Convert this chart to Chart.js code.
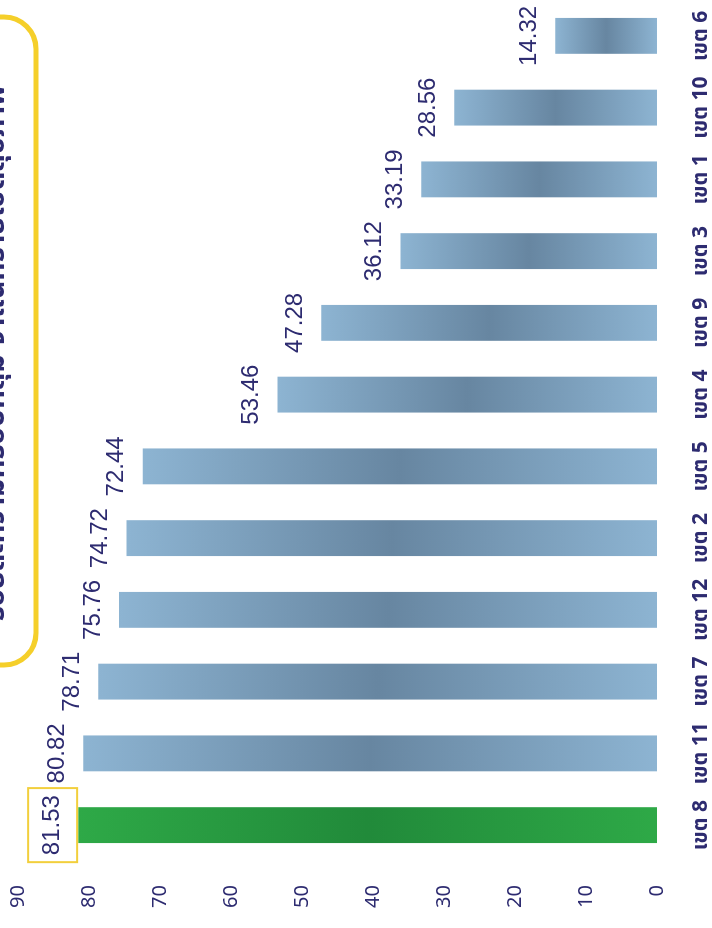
<!DOCTYPE html>
<html>
<head>
<meta charset="utf-8">
<script src="https://cdn.jsdelivr.net/npm/chart.js@4.4.1/dist/chart.umd.min.js"></script>
<style>
    html, body { margin: 0; padding: 0; background: #fff; overflow: hidden; }
    body { width: 712px; height: 928px; position: relative; }
    #wrap {
        position: absolute; left: 0; top: 0;
        width: 928px; height: 712px;
        transform-origin: 0 0;
        transform: translateY(928px) rotate(-90deg);
    }
</style>
</head>
<body>
<div id="wrap"><canvas id="regionChart" width="928" height="712"></canvas></div>
<script>
    // data
    const regions = ["เขต 8", "เขต 11", "เขต 7", "เขต 12", "เขต 2", "เขต 5", "เขต 4", "เขต 9", "เขต 3", "เขต 1", "เขต 10", "เขต 6"];
    const values = [81.53, 80.82, 78.71, 75.76, 74.72, 72.44, 53.46, 47.28, 36.12, 33.19, 28.56, 14.32];
    const highlighted = [true, false, false, false, false, false, false, false, false, false, false, false];
    const yMin = 0;
    const yMax = 90;
    const yStep = 10;
    const titleText = "ร้อยละความครอบคลุม จำแนกรายเขตสุขภาพ";

    const navy = "#2d2b70";
    const blueShade = ["#8db4d2", "#6786a1"];
    const greenShade = ["#2ea947", "#218a3a"];
    const fontFamily = "'Noto Sans', 'Noto Sans Thai', 'DejaVu Sans', sans-serif";

    /**
     * bars: lighter at both ends, darker in the middle
     */
    function barFill(ctx) {
        let shade = highlighted[ctx.dataIndex] ? greenShade : blueShade;
        let chart = ctx.chart;
        if (!chart.chartArea || ctx.type !== "data") {
            return shade[0];
        }
        let y = chart.scales.y;
        let top = y.getPixelForValue(ctx.raw);
        let bottom = y.getPixelForValue(0);
        let g = chart.ctx.createLinearGradient(0, top, 0, bottom);
        g.addColorStop(0, shade[0]);
        g.addColorStop(0.5, shade[1]);
        g.addColorStop(1, shade[0]);
        return g;
    }

    /**
     * value labels above each bar, boxed for the highlighted one
     */
    const valueLabels = {
        id: "valueLabels",
        afterDatasetsDraw(chart) {
            let ctx = chart.ctx;
            let meta = chart.getDatasetMeta(0);
            ctx.save();
            ctx.font = "24px 'Liberation Sans', sans-serif";
            ctx.fillStyle = navy;
            ctx.textAlign = "center";
            ctx.textBaseline = "middle";
            meta.data.forEach(function (bar, i) {
                let text = values[i].toFixed(2);
                let cy = bar.y - 26;
                ctx.fillText(text, bar.x, cy);
                if (highlighted[i]) {
                    let w = ctx.measureText(text).width;
                    ctx.strokeStyle = "#f2cf3c";
                    ctx.lineWidth = 2;
                    ctx.strokeRect(bar.x - w / 2 - 7, cy - 24, w + 14, 49);
                }
            });
            ctx.restore();
        }
    };

    /**
     * rounded yellow title box, mostly cut off at the page edge
     */
    const titleBox = {
        id: "titleBox",
        beforeDraw(chart) {
            let ctx = chart.ctx;
            ctx.save();
            ctx.fillStyle = "#fff";
            ctx.fillRect(0, 0, chart.width, chart.height);
            ctx.strokeStyle = "#f5cf2a";
            ctx.lineWidth = 5;
            ctx.beginPath();
            ctx.roundRect(263, -70, 648, 106, 32);
            ctx.stroke();
            ctx.font = "bold 29px " + fontFamily;
            ctx.fillStyle = navy;
            ctx.textAlign = "center";
            ctx.textBaseline = "alphabetic";
            ctx.fillText(titleText, 575, 4);
            ctx.restore();
        }
    };

    let regionChart = new Chart(document.getElementById("regionChart"), {
        type: "bar",
        data: {
            labels: regions,
            datasets: [
                {
                    label: "ร้อยละ",
                    data: values,
                    backgroundColor: barFill,
                    borderWidth: 0,
                    barPercentage: 0.5,
                    categoryPercentage: 1,
                },
            ],
        },
        options: {
            responsive: false,
            animation: false,
            layout: {
                padding: { top: 18, right: 0, bottom: 0, left: 0 }
            },
            plugins: {
                legend: { display: false },
                title: { display: false },
                tooltip: { enabled: false }
            },
            scales: {
                x: {
                    grid: { display: false, drawTicks: false },
                    border: { display: false },
                    afterFit: function (scale) {
                        scale.height = 55;
                        scale.paddingLeft = 0;
                        scale.paddingRight = 0;
                    },
                    ticks: {
                        color: navy,
                        padding: 31,
                        maxRotation: 0,
                        autoSkip: false,
                        font: { family: fontFamily, size: 21, weight: "bold" }
                    }
                },
                y: {
                    min: yMin,
                    max: yMax,
                    grid: { display: false, drawTicks: false },
                    border: { display: false },
                    afterFit: function (scale) {
                        scale.width = 67;
                        scale.paddingTop = 0;
                        scale.paddingBottom = 0;
                    },
                    ticks: {
                        stepSize: yStep,
                        color: navy,
                        padding: 24,
                        font: { family: fontFamily, size: 20 }
                    }
                }
            }
        },
        plugins: [titleBox, valueLabels]
    });
</script>
</body>
</html>
